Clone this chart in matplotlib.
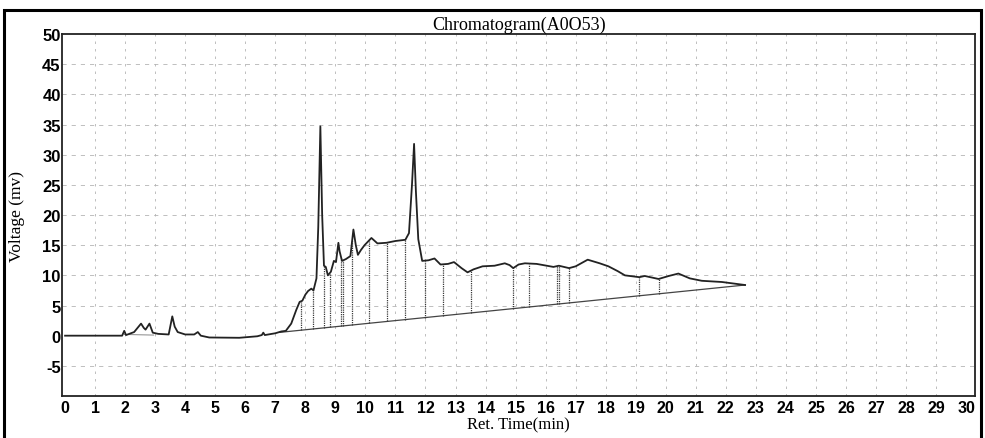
import numpy as np
import matplotlib
matplotlib.use("Agg")
import matplotlib.pyplot as plt
from matplotlib.patches import Rectangle

# ---- data ----
ret_time = [0.0, 1.9, 1.97, 2.03, 2.3, 2.53, 2.62, 2.68, 2.81, 2.92, 3.1, 3.45, 3.57, 3.65,
            3.75, 4.0, 4.3, 4.42, 4.52, 4.8, 5.8, 6.4, 6.55, 6.6, 6.65, 7.0, 7.2, 7.35,
            7.53, 7.7, 7.81, 7.9, 8.0, 8.09, 8.2, 8.27, 8.37, 8.43, 8.5, 8.56, 8.62,
            8.68, 8.75, 8.85, 8.95, 9.02, 9.1, 9.14, 9.22, 9.35, 9.5, 9.6, 9.68, 9.75,
            9.85, 9.97, 10.2, 10.4, 10.7, 11.0, 11.33, 11.45, 11.55, 11.62, 11.68, 11.76,
            11.89, 12.1, 12.3, 12.5, 12.75, 12.95, 13.2, 13.4, 13.6, 13.9, 14.3, 14.64,
            14.8, 14.92, 15.1, 15.31, 15.7, 16.26, 16.44, 16.78, 17.0, 17.4, 17.8, 18.09,
            18.4, 18.64, 19.12, 19.3, 19.76, 20.1, 20.42, 20.8, 21.2, 21.87, 22.64]
voltage = [0.0, 0.0, 0.8, 0.1, 0.6, 2.0, 1.3, 1.0, 2.0, 0.5, 0.3, 0.2, 3.2, 1.5,
           0.6, 0.2, 0.2, 0.6, 0.0, -0.3, -0.35, -0.1, 0.1, 0.5, 0.1, 0.4, 0.7, 0.8,
           2.0, 4.3, 5.6, 5.8, 6.8, 7.4, 7.8, 7.5, 9.5, 18.0, 34.7, 20.0, 11.6,
           11.4, 10.0, 10.6, 12.4, 12.2, 15.4, 14.0, 12.4, 12.7, 13.2, 17.6, 15.0, 13.4,
           14.2, 15.0, 16.2, 15.3, 15.4, 15.7, 15.9, 17.0, 25.0, 31.8, 24.0, 16.0,
           12.4, 12.5, 12.8, 11.8, 11.9, 12.2, 11.2, 10.5, 11.0, 11.5, 11.6, 12.0,
           11.7, 11.2, 11.8, 12.0, 11.9, 11.4, 11.6, 11.2, 11.5, 12.6, 12.0, 11.5,
           10.7, 10.0, 9.7, 9.9, 9.4, 9.9, 10.3, 9.5, 9.1, 8.9, 8.4]

baseline_time = [7.15, 22.64]
baseline_volt = [0.55, 8.4]

small_base_time = [1.97, 2.95]
small_base_volt = [0.2, 0.1]

drop_times = [7.84, 8.26, 8.62, 8.81, 9.2, 9.26, 9.56, 10.11, 10.73, 11.33, 11.98,
              12.59, 13.5, 14.92, 15.44, 16.37, 16.44, 16.78, 19.12, 19.76]

x_ticks = list(range(0, 31))
x_tick_labels = [str(v) for v in x_ticks]
y_ticks = [50, 45, 40, 35, 30, 25, 20, 15, 10, 5, 0, -5]
y_tick_labels = [str(v) for v in y_ticks]

title = "Chromatogram(A0O53)"
x_label = "Ret. Time(min)"
y_label = "Voltage (mv)"

# ---- figure ----
fig = plt.figure(figsize=(9.85, 4.39), dpi=100)
ax = fig.add_axes([0.063, 0.0957, 0.927, 0.8243])

# grid
for xv in x_ticks[1:-1]:
    ax.axvline(xv, color="#b4b4b4", lw=0.6, ls=(0, (3, 6)), zorder=0)
for yv in [45, 40, 35, 30, 25, 20, 15, 10, 5, -5]:
    ax.axhline(yv, color="#b4b4b4", lw=0.6, ls=(0, (5, 6)), zorder=0)

# baselines
ax.plot(baseline_time, baseline_volt, color="#444444", lw=0.9, zorder=2)
ax.plot(small_base_time, small_base_volt, color="#888888", lw=0.7, zorder=2)

# drop lines
bt = np.array(baseline_time)
bv = np.array(baseline_volt)
for t in drop_times:
    top = np.interp(t, ret_time, voltage)
    bot = np.interp(t, bt, bv)
    ax.plot([t, t], [bot, top], color="#3a3a3a", lw=0.9, ls=(0, (1, 0.8)), zorder=2)

# trace
ax.plot(ret_time, voltage, color="#222222", lw=1.3, zorder=3)

ax.set_xlim(-0.1, 30.3)
ax.set_ylim(-10, 50)
ax.set_xticks(x_ticks)
ax.set_xticklabels(x_tick_labels, fontfamily="Liberation Sans",
                   fontsize=11.5, fontweight="bold")
ax.set_yticks(y_ticks)
ax.set_yticklabels(y_tick_labels, fontfamily="Liberation Sans", fontsize=12, fontweight="bold")
ax.tick_params(axis="both", length=0, pad=3)
ax.tick_params(axis="y", pad=1)

for s in ax.spines.values():
    s.set_linewidth(1.3)
    s.set_color("#222222")

ax.set_title(title, fontfamily="Liberation Serif", fontsize=13, pad=4)
ax.set_xlabel(x_label, fontfamily="Liberation Serif", fontsize=12, labelpad=1)
ax.set_ylabel(y_label, fontfamily="Liberation Serif", fontsize=12.5, labelpad=12)

# outer frame
fig.patches.append(Rectangle((0.004, -0.01), 0.992, 0.985, transform=fig.transFigure,
                             fill=False, edgecolor="black", lw=2.2))

fig.savefig("out.png", dpi=100)
